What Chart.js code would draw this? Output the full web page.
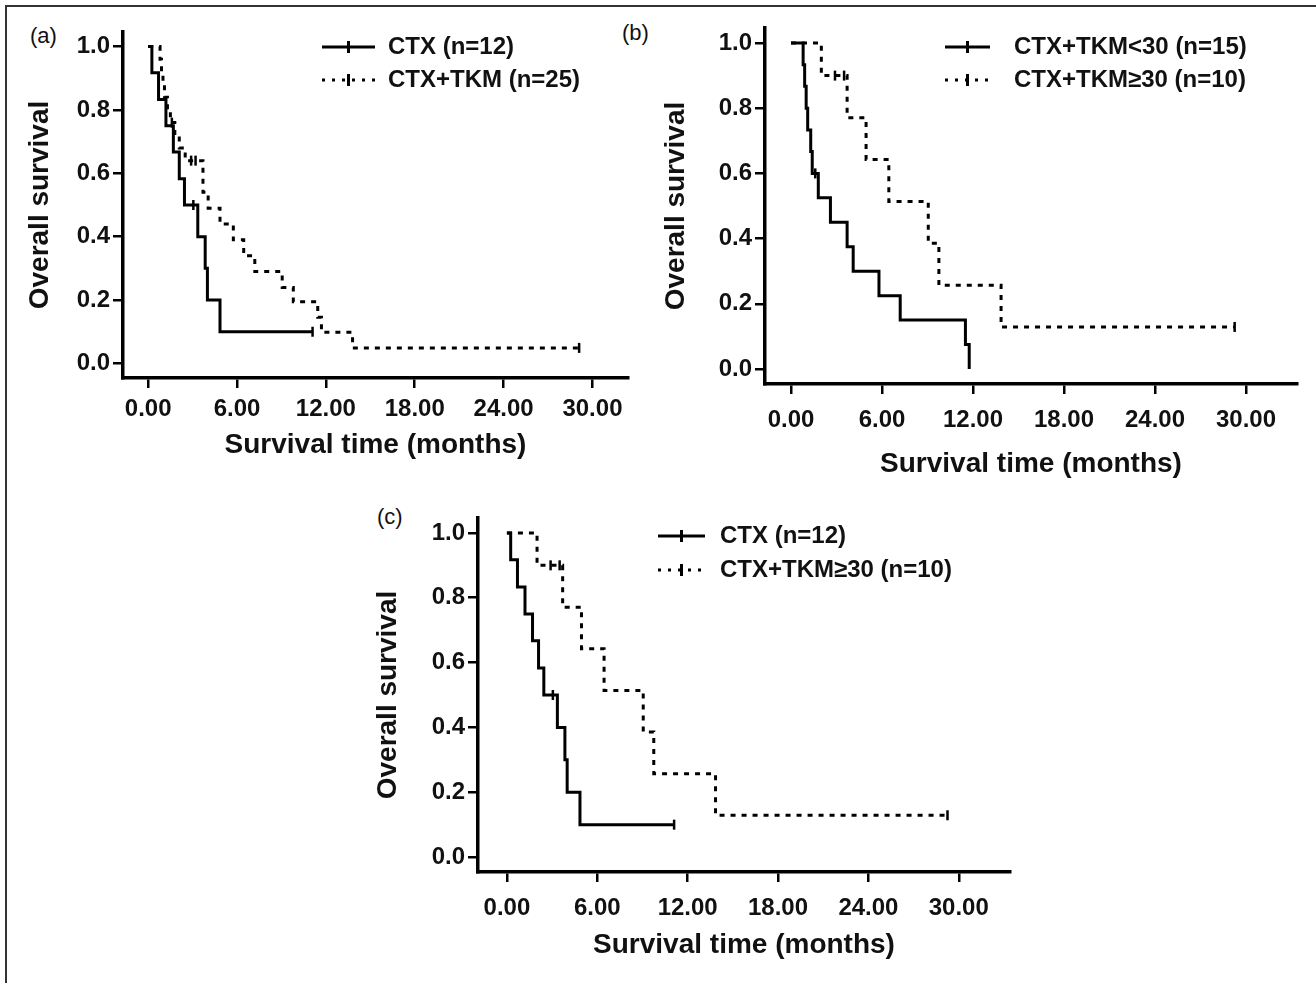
<!DOCTYPE html>
<html>
<head>
<meta charset="utf-8">
<script src="https://cdn.jsdelivr.net/npm/chart.js@4.4.1/dist/chart.umd.min.js"></script>
<style>
html, body { margin: 0; padding: 0; background: #fff; }
#wrap { position: relative; width: 1316px; height: 983px; overflow: hidden; }
#wrap canvas { position: absolute; left: 0; top: 0; }
.frame { position: absolute; left: 5px; top: 5px; width: 1320px; height: 990px; border-left: 2px solid #333; border-top: 2px solid #333; }
.tag { position: absolute; font: 22px "Liberation Sans", Arial, sans-serif; line-height: 22px; color: #111; }
</style>
</head>
<body>
<div id="wrap">
  <div class="frame"></div>
  <div class="tag" style="left:30px;top:25px">(a)</div>
  <div class="tag" style="left:622px;top:22px">(b)</div>
  <div class="tag" style="left:377px;top:506px">(c)</div>
  <canvas id="chartA" width="1316" height="983"></canvas>
  <canvas id="chartB" width="1316" height="983"></canvas>
  <canvas id="chartC" width="1316" height="983"></canvas>
</div>
<script>
// CTX (n=12)
var ctxT = [0.25, 0.7, 1.2, 1.7, 2.1, 2.45, 3.35, 3.85, 4.0, 4.85];
var ctxS = [0.917, 0.833, 0.75, 0.667, 0.583, 0.5, 0.4, 0.3, 0.2, 0.1];
var ctxEnd = 11.1;
var ctxCensT = [3.05, 11.1];
var ctxCensS = [0.5, 0.1];

// CTX+TKM (n=25)
var tkmT = [0.8, 0.9, 1.0, 1.1, 1.3, 1.5, 1.8, 2.1, 2.5, 3.7, 4.05, 4.85, 5.75, 6.45, 7.2, 9.05, 9.8, 11.45, 11.7, 13.8];
var tkmS = [0.96, 0.92, 0.88, 0.84, 0.80, 0.76, 0.72, 0.68, 0.64, 0.54, 0.49, 0.44, 0.39, 0.34, 0.29, 0.24, 0.195, 0.146, 0.098, 0.049];
var tkmEnd = 29.1;
var tkmCensT = [1.6, 2.9, 3.2, 29.1];
var tkmCensS = [0.76, 0.64, 0.64, 0.049];

// CTX+TKM<30 (n=15)
var lowT = [0.8, 0.9, 1.0, 1.1, 1.3, 1.4, 1.8, 2.6, 3.7, 4.1, 5.8, 7.2, 11.5, 11.75];
var lowS = [0.933, 0.867, 0.8, 0.733, 0.667, 0.6, 0.525, 0.45, 0.375, 0.3, 0.225, 0.15, 0.075, 0];
var lowEnd = 11.75;
var lowCensT = [1.6];
var lowCensS = [0.6];

// CTX+TKM>=30 (n=10)
var highT = [2.0, 3.7, 4.95, 6.45, 9.05, 9.75, 13.85];
var highS = [0.9, 0.771, 0.643, 0.514, 0.386, 0.257, 0.129];
var highEnd = 29.25;
var highCensT = [2.9, 3.5, 29.25];
var highCensS = [0.9, 0.9, 0.129];

var xTicks = [0, 6, 12, 18, 24, 30];
var yTicks = [0, 0.2, 0.4, 0.6, 0.8, 1.0];

Chart.defaults.font.family = "'Liberation Sans', Arial, Helvetica, sans-serif";
Chart.defaults.color = '#111';

function km(times, surv, end) {
    var pts = [{x: 0, y: 1}];
    for (var i = 0; i < times.length; i++) pts.push({x: times[i], y: surv[i]});
    pts.push({x: end, y: surv[surv.length - 1]});
    return pts;
}
function pairs(t, s) {
    return t.map(function (v, i) { return {x: v, y: s[i]}; });
}

// legend with the little censor tick in the sample line
var kmLegend = {
    id: 'kmLegend',
    afterDraw: function (chart, args, opts) {
        var ctx = chart.ctx;
        var lines = chart.data.datasets.filter(function (d) { return d.label; });
        ctx.save();
        ctx.strokeStyle = '#000';
        ctx.fillStyle = '#111';
        ctx.font = 'bold 24px ' + Chart.defaults.font.family;
        ctx.textBaseline = 'middle';
        lines.forEach(function (d, i) {
            var y = opts.y + i * opts.gap;
            ctx.lineWidth = 3;
            ctx.setLineDash(d.borderDash.length ? [3, 7] : []);
            ctx.beginPath(); ctx.moveTo(opts.x0, y); ctx.lineTo(opts.x1, y); ctx.stroke();
            ctx.setLineDash([]);
            var mx = (opts.x0 + opts.x1) / 2;
            ctx.beginPath(); ctx.moveTo(mx, y - 6); ctx.lineTo(mx, y + 6); ctx.stroke();
            ctx.fillText(d.label, opts.textX, y);
        });
        ctx.restore();
    }
};

function makePanel(id, g, series) {
    var datasets = [];
    series.forEach(function (s) {
        datasets.push({
            label: s.label, data: s.curve, stepped: 'before',
            borderColor: '#000', borderWidth: 3, borderDash: s.dash ? [5, 6] : [],
            pointRadius: 0, fill: false
        });
    });
    series.forEach(function (s) {
        datasets.push({
            data: s.cens, showLine: false, pointStyle: 'line', pointRotation: 90,
            pointRadius: 5, pointBorderWidth: 2.5, pointBorderColor: '#000', borderColor: '#000'
        });
    });
    var padLeft = g.yTitle - 16.8;
    return new Chart(document.getElementById(id), {
        type: 'line',
        data: {datasets: datasets},
        plugins: [kmLegend],
        options: {
            responsive: false,
            animation: false,
            devicePixelRatio: 1,
            layout: {padding: {left: padLeft, right: 1316 - g.right, top: g.top, bottom: 983 - g.xBottom}},
            plugins: {
                legend: {display: false},
                tooltip: {enabled: false},
                kmLegend: g.legend
            },
            scales: {
                x: {
                    type: 'linear', min: g.xMin, max: g.xMax,
                    afterBuildTicks: function (s) { s.ticks = xTicks.map(function (v) { return {value: v}; }); },
                    afterFit: function (s) { s.height = g.xBottom - g.bottom; s.paddingLeft = 0; s.paddingRight = 0; },
                    grid: {drawOnChartArea: false, drawTicks: true, tickLength: 10, color: '#000', lineWidth: 2.5},
                    border: {display: true, color: '#000', width: 3.5},
                    ticks: {
                        padding: g.xPad, color: '#111', maxRotation: 0,
                        font: {size: 24, weight: 'bold'},
                        callback: function (v) { return v.toFixed(2); }
                    },
                    title: {display: true, text: 'Survival time (months)', color: '#111', padding: 0, font: {size: 28, weight: 'bold'}}
                },
                y: {
                    type: 'linear', min: -0.046, max: 1.046,
                    afterBuildTicks: function (s) { s.ticks = yTicks.map(function (v) { return {value: v}; }); },
                    afterFit: function (s) { s.width = g.left - padLeft; s.paddingTop = 0; s.paddingBottom = 0; },
                    grid: {drawOnChartArea: false, drawTicks: true, tickLength: 10, color: '#000', lineWidth: 2.5},
                    border: {display: true, color: '#000', width: 3.5},
                    ticks: {
                        padding: 3, color: '#111',
                        font: {size: 24, weight: 'bold'},
                        callback: function (v) { return v.toFixed(1); }
                    },
                    title: {display: true, text: 'Overall survival', color: '#111', padding: 0, font: {size: 28, weight: 'bold'}}
                }
            }
        }
    });
}

makePanel('chartA', {
    left: 123, right: 628, top: 32, bottom: 378, xBottom: 462, xPad: 7, yTitle: 40,
    xMin: -1.7, xMax: 32.4,
    legend: {x0: 322, x1: 375, textX: 388, y: 47, gap: 33}
}, [
    {label: 'CTX (n=12)', curve: km(ctxT, ctxS, ctxEnd), cens: pairs(ctxCensT, ctxCensS), dash: false},
    {label: 'CTX+TKM (n=25)', curve: km(tkmT, tkmS, tkmEnd), cens: pairs(tkmCensT, tkmCensS), dash: true}
]);

makePanel('chartB', {
    left: 765, right: 1297, top: 28, bottom: 384, xBottom: 481, xPad: 12, yTitle: 676,
    xMin: -1.714, xMax: 33.36,
    legend: {x0: 945, x1: 990, textX: 1014, y: 47, gap: 33}
}, [
    {label: 'CTX+TKM<30 (n=15)', curve: km(lowT, lowS, lowEnd), cens: pairs(lowCensT, lowCensS), dash: false},
    {label: 'CTX+TKM\u226530 (n=10)', curve: km(highT, highS, highEnd), cens: pairs(highCensT, highCensS), dash: true}
]);

makePanel('chartC', {
    left: 478, right: 1010, top: 518, bottom: 872, xBottom: 962, xPad: 12, yTitle: 388,
    xMin: -1.92, xMax: 33.4,
    legend: {x0: 658, x1: 705, textX: 720, y: 536, gap: 34}
}, [
    {label: 'CTX (n=12)', curve: km(ctxT, ctxS, ctxEnd), cens: pairs(ctxCensT, ctxCensS), dash: false},
    {label: 'CTX+TKM\u226530 (n=10)', curve: km(highT, highS, highEnd), cens: pairs(highCensT, highCensS), dash: true}
]);
</script>
</body>
</html>
